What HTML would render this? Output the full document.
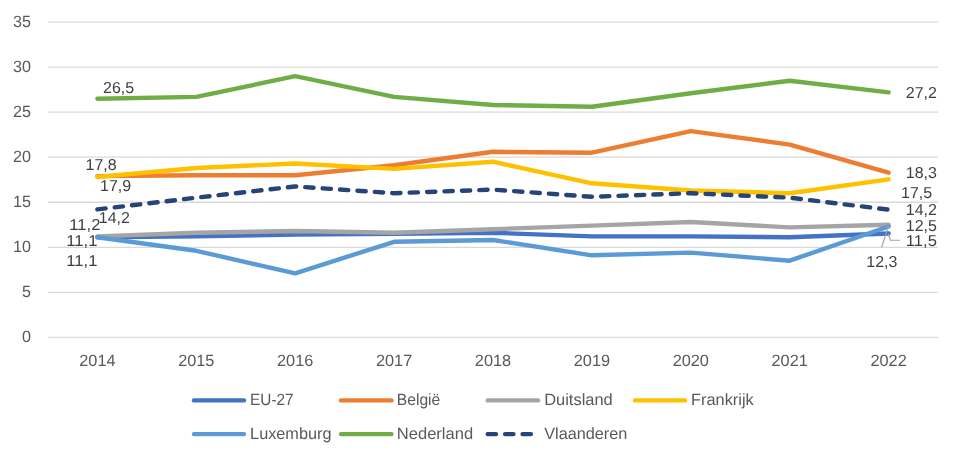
<!DOCTYPE html>
<html lang="nl">
<head>
<meta charset="utf-8">
<title>Grafiek</title>
<style>
html,body{margin:0;padding:0;background:#fff;}
body{width:960px;height:460px;overflow:hidden;}
svg{display:block;}
text{font-family:"Liberation Sans",sans-serif;font-size:16.0px;text-rendering:geometricPrecision;}
.ax{fill:#595959;font-size:16.3px;}
.lg{fill:#595959;font-size:16.3px;}
.dl{fill:#404040;font-size:15.8px;}
.ln{fill:none;stroke-width:4.4;stroke-linecap:round;stroke-linejoin:round;}
.grid{stroke:#D9D9D9;stroke-width:1.33;}
.lead{fill:none;stroke:#A3A3A3;stroke-width:1.15;}
</style>
</head>
<body>
<svg width="960" height="460" viewBox="0 0 960 460">
<rect x="0" y="0" width="960" height="460" fill="#ffffff"/>

<line class="grid" x1="47.9" y1="337.40" x2="938.1" y2="337.40"/>
<text class="ax" x="31.0" y="342.0" text-anchor="end" textLength="9.0" lengthAdjust="spacingAndGlyphs">0</text>
<line class="grid" x1="47.9" y1="292.35" x2="938.1" y2="292.35"/>
<text class="ax" x="31.0" y="297.0" text-anchor="end" textLength="9.0" lengthAdjust="spacingAndGlyphs">5</text>
<line class="grid" x1="47.9" y1="247.30" x2="938.1" y2="247.30"/>
<text class="ax" x="31.0" y="252.0" text-anchor="end" textLength="18.0" lengthAdjust="spacingAndGlyphs">10</text>
<line class="grid" x1="47.9" y1="202.25" x2="938.1" y2="202.25"/>
<text class="ax" x="31.0" y="207.0" text-anchor="end" textLength="18.0" lengthAdjust="spacingAndGlyphs">15</text>
<line class="grid" x1="47.9" y1="157.20" x2="938.1" y2="157.20"/>
<text class="ax" x="31.0" y="162.0" text-anchor="end" textLength="18.0" lengthAdjust="spacingAndGlyphs">20</text>
<line class="grid" x1="47.9" y1="112.15" x2="938.1" y2="112.15"/>
<text class="ax" x="31.0" y="117.0" text-anchor="end" textLength="18.0" lengthAdjust="spacingAndGlyphs">25</text>
<line class="grid" x1="47.9" y1="67.10" x2="938.1" y2="67.10"/>
<text class="ax" x="31.0" y="72.0" text-anchor="end" textLength="18.0" lengthAdjust="spacingAndGlyphs">30</text>
<line class="grid" x1="47.9" y1="22.05" x2="938.1" y2="22.05"/>
<text class="ax" x="31.0" y="27.0" text-anchor="end" textLength="18.0" lengthAdjust="spacingAndGlyphs">35</text>
<text class="ax" x="97.4" y="366.0" text-anchor="middle" textLength="36.3" lengthAdjust="spacingAndGlyphs">2014</text>
<text class="ax" x="196.3" y="366.0" text-anchor="middle" textLength="36.3" lengthAdjust="spacingAndGlyphs">2015</text>
<text class="ax" x="295.2" y="366.0" text-anchor="middle" textLength="36.3" lengthAdjust="spacingAndGlyphs">2016</text>
<text class="ax" x="394.1" y="366.0" text-anchor="middle" textLength="36.3" lengthAdjust="spacingAndGlyphs">2017</text>
<text class="ax" x="493.0" y="366.0" text-anchor="middle" textLength="36.3" lengthAdjust="spacingAndGlyphs">2018</text>
<text class="ax" x="591.9" y="366.0" text-anchor="middle" textLength="36.3" lengthAdjust="spacingAndGlyphs">2019</text>
<text class="ax" x="690.8" y="366.0" text-anchor="middle" textLength="36.3" lengthAdjust="spacingAndGlyphs">2020</text>
<text class="ax" x="789.7" y="366.0" text-anchor="middle" textLength="36.3" lengthAdjust="spacingAndGlyphs">2021</text>
<text class="ax" x="888.6" y="366.0" text-anchor="middle" textLength="36.3" lengthAdjust="spacingAndGlyphs">2022</text>
<polyline class="ln" stroke="#4472C4" points="97.4,237.30 196.3,236.40 295.2,234.60 394.1,233.70 493.0,232.80 591.9,236.40 690.8,236.40 789.7,237.30 888.6,233.43"/>
<polyline class="ln" stroke="#ED7D31" points="97.4,176.10 196.3,175.20 295.2,175.20 394.1,165.30 493.0,151.80 591.9,152.70 690.8,131.10 789.7,144.60 888.6,172.68"/>
<polyline class="ln" stroke="#A5A5A5" points="97.4,236.40 196.3,232.80 295.2,231.00 394.1,232.80 493.0,229.20 591.9,225.60 690.8,222.00 789.7,227.40 888.6,224.70"/>
<polyline class="ln" stroke="#FFC000" points="97.4,177.00 196.3,168.00 295.2,163.50 394.1,168.90 493.0,161.70 591.9,183.30 690.8,190.50 789.7,193.20 888.6,179.34"/>
<polyline class="ln" stroke="#5B9BD5" points="97.4,237.30 196.3,250.80 295.2,273.30 394.1,241.80 493.0,240.00 591.9,255.30 690.8,252.60 789.7,260.70 888.6,226.50"/>
<polyline class="ln" stroke="#70AD47" points="97.4,98.70 196.3,96.90 295.2,76.20 394.1,96.90 493.0,105.00 591.9,106.80 690.8,93.30 789.7,80.70 888.6,92.40"/>
<polyline class="ln" stroke="#264478" stroke-dasharray="8.3 9.133" points="97.4,209.40 196.3,197.70 295.2,186.45 394.1,193.20 493.0,189.60 591.9,196.80 690.8,193.20 789.7,197.70 888.6,209.67"/>
<polyline class="lead" points="888.5,226 881.6,247.2"/>
<polyline class="lead" points="888.3,233.8 890.4,240.2 900.0,240.2"/>
<text class="dl" x="103.0" y="93.0" text-anchor="start" textLength="31.1" lengthAdjust="spacingAndGlyphs">26,5</text>
<text class="dl" x="85.6" y="170.0" text-anchor="start" textLength="31.1" lengthAdjust="spacingAndGlyphs">17,8</text>
<text class="dl" x="100.0" y="191.0" text-anchor="start" textLength="31.1" lengthAdjust="spacingAndGlyphs">17,9</text>
<text class="dl" x="98.8" y="223.0" text-anchor="start" textLength="31.1" lengthAdjust="spacingAndGlyphs">14,2</text>
<text class="dl" x="69.3" y="230.0" text-anchor="start" textLength="31.1" lengthAdjust="spacingAndGlyphs">11,2</text>
<text class="dl" x="66.3" y="246.0" text-anchor="start" textLength="31.1" lengthAdjust="spacingAndGlyphs">11,1</text>
<text class="dl" x="66.3" y="266.0" text-anchor="start" textLength="31.1" lengthAdjust="spacingAndGlyphs">11,1</text>
<text class="dl" x="905.8" y="98.0" text-anchor="start" textLength="31.1" lengthAdjust="spacingAndGlyphs">27,2</text>
<text class="dl" x="905.8" y="178.0" text-anchor="start" textLength="31.1" lengthAdjust="spacingAndGlyphs">18,3</text>
<text class="dl" x="901.0" y="198.0" text-anchor="start" textLength="31.1" lengthAdjust="spacingAndGlyphs">17,5</text>
<text class="dl" x="905.8" y="215.0" text-anchor="start" textLength="31.1" lengthAdjust="spacingAndGlyphs">14,2</text>
<text class="dl" x="905.8" y="231.0" text-anchor="start" textLength="31.1" lengthAdjust="spacingAndGlyphs">12,5</text>
<text class="dl" x="905.8" y="246.0" text-anchor="start" textLength="31.1" lengthAdjust="spacingAndGlyphs">11,5</text>
<text class="dl" x="866.3" y="267.0" text-anchor="start" textLength="31.1" lengthAdjust="spacingAndGlyphs">12,3</text>
<line class="ln" stroke="#4472C4" x1="194.0" y1="400.40" x2="244.0" y2="400.40"/>
<text class="lg" x="250.1" y="405.0" text-anchor="start" textLength="43.5" lengthAdjust="spacingAndGlyphs">EU-27</text>
<line class="ln" stroke="#ED7D31" x1="341.0" y1="400.40" x2="391.5" y2="400.40"/>
<text class="lg" x="396.8" y="405.0" text-anchor="start" textLength="43.5" lengthAdjust="spacingAndGlyphs">België</text>
<line class="ln" stroke="#A5A5A5" x1="487.7" y1="400.40" x2="538.0" y2="400.40"/>
<text class="lg" x="544.2" y="405.0" text-anchor="start" textLength="68.6" lengthAdjust="spacingAndGlyphs">Duitsland</text>
<line class="ln" stroke="#FFC000" x1="635.0" y1="400.40" x2="685.0" y2="400.40"/>
<text class="lg" x="691.1" y="405.0" text-anchor="start" textLength="62.6" lengthAdjust="spacingAndGlyphs">Frankrijk</text>
<line class="ln" stroke="#5B9BD5" x1="194.0" y1="434.10" x2="244.0" y2="434.10"/>
<text class="lg" x="250.1" y="439.0" text-anchor="start" textLength="81.4" lengthAdjust="spacingAndGlyphs">Luxemburg</text>
<line class="ln" stroke="#70AD47" x1="341.0" y1="434.10" x2="391.5" y2="434.10"/>
<text class="lg" x="396.8" y="439.0" text-anchor="start" textLength="76.3" lengthAdjust="spacingAndGlyphs">Nederland</text>
<line class="ln" stroke="#264478" stroke-dasharray="8.3 9.133" x1="487.7" y1="434.10" x2="531.0" y2="434.10"/>
<text class="lg" x="544.2" y="439.0" text-anchor="start" textLength="83.1" lengthAdjust="spacingAndGlyphs">Vlaanderen</text>
</svg>
</body>
</html>
